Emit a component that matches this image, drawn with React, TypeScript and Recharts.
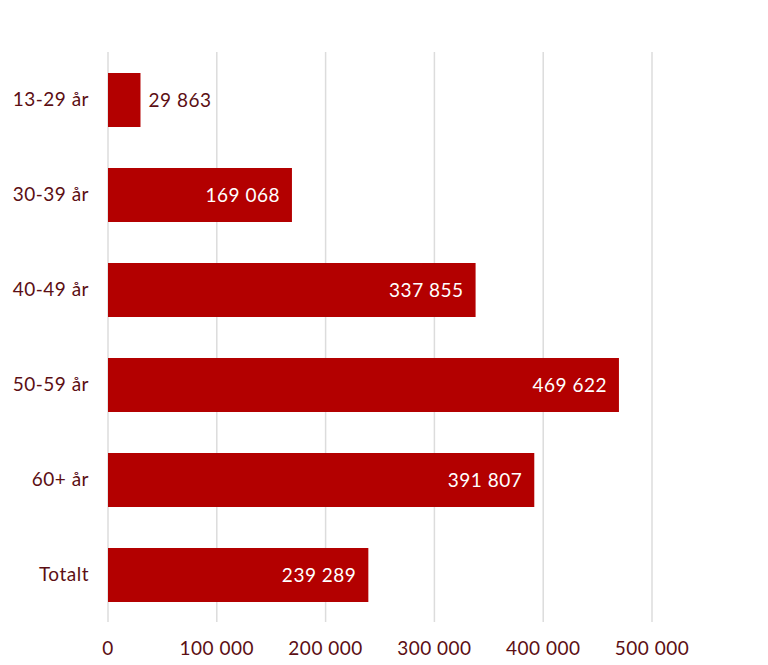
import React from 'react'
import { Bar, BarChart, CartesianGrid, LabelList, XAxis, YAxis } from 'recharts'

const categories = ['13-29 år', '30-39 år', '40-49 år', '50-59 år', '60+ år', 'Totalt']
const amounts = [29863, 169068, 337855, 469622, 391807, 239289]
const xTicks = [0, 100000, 200000, 300000, 400000, 500000]

const data = categories.map((name, i) => ({ name, amount: amounts[i] }))

const textColor = '#5c0f14'
const barColor = '#b30000'
const font = 'Lato, "Noto Sans", sans-serif'
const textStyle = { fill: textColor, fontSize: 19, fontFamily: font, letterSpacing: 0.5 }

const formatNumber = (value: number) =>
  String(value).replace(/\B(?=(\d{3})+(?!\d))/g, ' ')

// small bars get their label outside, the rest inside at the right end
const renderBarLabel = (props: any) => {
  const { x, y, width, height, value } = props
  const inside = width > 80
  return (
    <text
      x={inside ? x + width - 12 : x + width + 8}
      y={y + height / 2}
      dy="0.35em"
      textAnchor={inside ? 'end' : 'start'}
      fill={inside ? '#ffffff' : textColor}
      fontSize={19}
      fontFamily={font}
      letterSpacing={0.5}
    >
      {formatNumber(value)}
    </text>
  )
}

export default function App() {
  return (
    <BarChart
      width={752}
      height={657}
      data={data}
      layout="vertical"
      margin={{ top: 44, right: 108, left: 0, bottom: 13 }}
    >
      <CartesianGrid horizontal={false} stroke="#dcdcdc" strokeWidth={1.5} />
      <XAxis
        type="number"
        domain={[0, 500000]}
        ticks={xTicks}
        tickFormatter={formatNumber}
        axisLine={false}
        tickLine={false}
        tickSize={0}
        tickMargin={20}
        height={30}
        interval={0}
        tick={textStyle}
      />
      <YAxis
        type="category"
        dataKey="name"
        width={100}
        axisLine={false}
        tickLine={false}
        tickSize={0}
        tickMargin={19}
        tick={textStyle}
      />
      <Bar dataKey="amount" fill={barColor} barSize={54} isAnimationActive={false}>
        <LabelList dataKey="amount" content={renderBarLabel} />
      </Bar>
    </BarChart>
  )
}
